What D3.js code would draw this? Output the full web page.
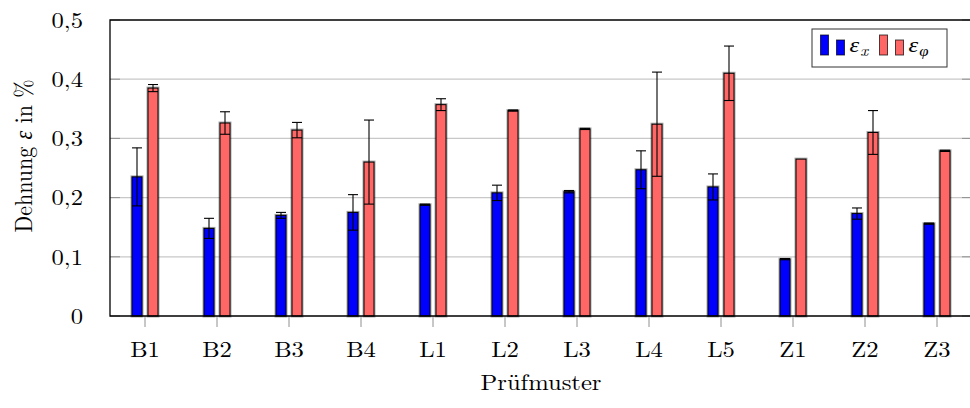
<!DOCTYPE html>
<html>
<head>
<meta charset="utf-8">
<script src="https://cdn.jsdelivr.net/npm/d3@7/dist/d3.min.js"></script>
<style>
  html, body { margin: 0; padding: 0; background: #fff; }
  svg { display: block; }
</style>
</head>
<body>
<svg id="chart" width="970" height="408"></svg>
<script>
const categories = ["B1","B2","B3","B4","L1","L2","L3","L4","L5","Z1","Z2","Z3"];
const epsX      = [0.235,0.148,0.170,0.175,0.188,0.208,0.210,0.247,0.218,0.096,0.173,0.156];
const epsXErr   = [0.049,0.017,0.005,0.030,0.001,0.013,0.002,0.032,0.022,0.001,0.0095,0.001];
const epsPhi    = [0.385,0.326,0.314,0.260,0.357,0.347,0.316,0.324,0.410,0.265,0.310,0.279];
const epsPhiErr = [0.006,0.019,0.013,0.071,0.010,0.001,0.001,0.088,0.046,0.000,0.037,0.001];
const yTicks = [0,0.1,0.2,0.3,0.4,0.5];
const yTickLabels = ["0","0,1","0,2","0,3","0,4","0,5"];

(function () {
const FONT = `"Latin Modern Roman", "Liberation Serif", serif`;
const GREEK = `"Liberation Serif", serif`;
const SX = 1.12; // horizontal stretch of the reference text
const svg = d3.select("#chart");
const pL = 110, pR = 972, pT = 20, pB = 316;
const y = d3.scaleLinear().domain([0,0.5]).range([pB, pT]);
const x = d3.scalePoint().domain(categories).range([145, 937]);

const barW = 10, offset = 8;

function styled(sel, size) {
  return sel.style("font-family", FONT).style("font-size", size + "px").style("fill", "#000");
}

// gridlines
svg.append("g").selectAll("line").data(yTicks.filter(t => t > 0 && t < 0.5)).join("line")
  .attr("x1", pL).attr("x2", pR)
  .attr("y1", d => y(d)).attr("y2", d => y(d))
  .attr("stroke", "#c8c8c8").attr("stroke-width", 1.2);

// y ticks inside both sides
const yt = svg.append("g");
yTicks.forEach(t => {
  yt.append("line").attr("x1", pL).attr("x2", pL + 10).attr("y1", y(t)).attr("y2", y(t))
    .attr("stroke", "#909090").attr("stroke-width", 1);
  yt.append("line").attr("x1", pR - 10).attr("x2", pR).attr("y1", y(t)).attr("y2", y(t))
    .attr("stroke", "#909090").attr("stroke-width", 1);
});

// x ticks below
svg.append("g").selectAll("line").data(categories).join("line")
  .attr("x1", d => x(d)).attr("x2", d => x(d))
  .attr("y1", pB).attr("y2", pB + 11)
  .attr("stroke", "#909090").attr("stroke-width", 1);

// bars
function drawSeries(vals, errs, dx, fill) {
  const g = svg.append("g");
  categories.forEach((c, i) => {
    const cx = x(c) + dx;
    const y0 = y(vals[i]);
    g.append("rect").attr("x", cx - barW/2).attr("y", y0).attr("width", barW).attr("height", pB - y0)
      .attr("fill", "none").attr("stroke", "#000").attr("stroke-opacity", 0.35).attr("stroke-width", 3);
    g.append("rect").attr("x", cx - barW/2).attr("y", y0).attr("width", barW).attr("height", pB - y0)
      .attr("fill", fill).attr("stroke", "#000").attr("stroke-width", 1);
  });
  categories.forEach((c, i) => {
    if (errs[i] <= 0) return;
    const cx = x(c) + dx;
    const yh = y(vals[i] + errs[i]), yl = y(vals[i] - errs[i]);
    const eg = g.append("g").attr("stroke", "#000").attr("stroke-width", 1.1);
    eg.append("line").attr("x1", cx).attr("x2", cx).attr("y1", yh).attr("y2", yl);
    eg.append("line").attr("x1", cx - 5).attr("x2", cx + 5).attr("y1", yh).attr("y2", yh);
    eg.append("line").attr("x1", cx - 5).attr("x2", cx + 5).attr("y1", yl).attr("y2", yl);
  });
}
drawSeries(epsX, epsXErr, -offset, "#0000ff");
drawSeries(epsPhi, epsPhiErr, offset, "#ff6666");

// frame
svg.append("path")
  .attr("d", `M${pR},${pT} H${pL} V${pB} H${pR} V${pT}`)
  .attr("fill", "none").attr("stroke", "#000").attr("stroke-width", 1.3);

// y tick labels
svg.append("g").selectAll("g").data(yTicks).join("g")
  .attr("transform", d => `translate(83,${y(d)}) scale(${SX},1)`)
  .call(gs => styled(gs.append("text"), 22)
    .attr("dy", "0.35em").attr("text-anchor", "end")
    .text(d => yTickLabels[yTicks.indexOf(d)]));

// x tick labels
svg.append("g").selectAll("g").data(categories).join("g")
  .attr("transform", d => `translate(${x(d)},357) scale(${SX},1)`)
  .call(gs => styled(gs.append("text"), 22).attr("text-anchor", "middle").text(d => d));

// axis titles
styled(svg.append("g").attr("transform", `translate(${(pL + pR) / 2},390) scale(${SX},1)`)
  .append("text"), 22).attr("text-anchor", "middle").text("Prüfmuster");

const ylab = styled(svg.append("g").attr("transform", `translate(32,156) scale(${SX},1) rotate(-90)`)
  .append("text"), 22).attr("text-anchor", "middle");
ylab.append("tspan").text("Dehnung ");
ylab.append("tspan").style("font-family", GREEK).style("font-style", "italic").text("ε");
ylab.append("tspan").text(" in %");

// legend
const lg = svg.append("g");
lg.append("rect").attr("x", 812).attr("y", 29).attr("width", 135).attr("height", 38)
  .attr("fill", "#fff").attr("stroke", "#333").attr("stroke-width", 1);
function legendEntry(x0, fill, sub) {
  lg.append("rect").attr("x", x0).attr("y", 35).attr("width", 8).attr("height", 20)
    .attr("fill", fill).attr("stroke", "#000").attr("stroke-opacity", 0.7).attr("stroke-width", 1);
  lg.append("rect").attr("x", x0 + 16).attr("y", 40).attr("width", 8).attr("height", 15)
    .attr("fill", fill).attr("stroke", "#000").attr("stroke-opacity", 0.7).attr("stroke-width", 1);
  const t = lg.append("g").attr("transform", `translate(${x0 + 29},52) scale(${SX},1)`)
    .append("text").style("font-family", GREEK).style("font-size", "22px")
    .style("font-style", "italic").style("fill", "#000");
  t.append("tspan").text("ε");
  t.append("tspan").style("font-size", "15px").attr("dx", 1).attr("dy", 4)
    .style("font-family", sub === "x" ? `"Latin Modern Roman", serif` : GREEK).text(sub);
}
legendEntry(820.5, "#0000ff", "x");
legendEntry(879.5, "#ff6666", "φ");
})();
</script>
</body>
</html>
